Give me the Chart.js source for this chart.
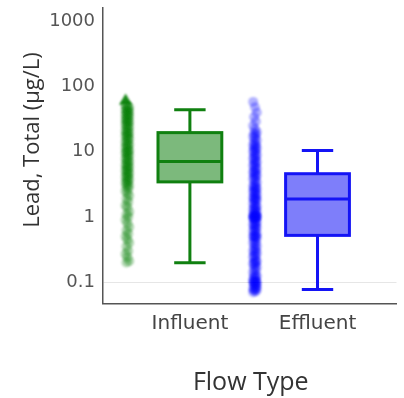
<!DOCTYPE html>
<html><head><meta charset="utf-8">
<script src="https://cdn.jsdelivr.net/npm/chart.js@4/dist/chart.umd.min.js"></script>
<style>html,body{margin:0;padding:0;background:#fff}canvas{display:block}</style>
</head><body>
<canvas id="c" width="404" height="398"></canvas>
<script>
const categories = ['Influent', 'Effluent'];
const yTicks = [0.1, 1, 10, 100, 1000];
// [lower whisker, Q1, median, Q3, upper whisker]
const influentBox = [0.198, 3.44, 7.06, 19.6, 44];
const effluentBox = [0.077, 0.52, 1.88, 4.59, 10.4];
const influentPoints = [52, 50, 48, 47, 45, 44, 42, 41, 40, 38, 37, 36, 35, 33, 32, 31, 30, 29, 28, 27, 26, 25, 24, 23, 22, 21, 20, 19.5, 19, 18, 17.5, 17, 16, 15.5, 15, 14, 13.5, 13, 12.5, 12, 11.5, 11, 10.5, 10, 10, 9.6, 9.2, 8.8, 8.4, 8, 7.7, 7.4, 7.1, 6.8, 6.5, 6.2, 6, 5.8, 5.5, 5.3, 5.1, 4.9, 4.7, 4.5, 4.3, 4.1, 4, 3.8, 3.6, 3.5, 3.3, 3.2, 3.0, 2.9, 2.7, 2.5, 2.3, 2.1, 1.9, 1.7, 1.5, 1.4, 1.2, 1.1, 1.0, 0.9, 0.8, 0.7, 0.62, 0.55, 0.5, 0.45, 0.4, 0.35, 0.3, 0.27, 0.24, 0.21, 0.2];
const influentMax = [60];
const effluentPoints = [58, 48, 40, 34, 29, 25, 22, 20, 19, 18, 17, 16, 15, 14, 13, 12.5, 12, 11.5, 11, 10.5, 10, 9.5, 9, 8.6, 8.2, 7.8, 7.4, 7, 6.7, 6.4, 6.1, 5.8, 5.5, 5.2, 5, 4.8, 4.6, 4.4, 4.2, 4, 3.8, 3.6, 3.4, 3.2, 3, 2.9, 2.8, 2.7, 2.6, 2.5, 2.4, 2.3, 2.2, 2.1, 2, 1.95, 1.9, 1.85, 1.8, 1.7, 1.6, 1.5, 1.45, 1.4, 1.35, 1.3, 1.25, 1.2, 1.15, 1.1, 1.08, 1.05, 1.02, 1, 1, 1, 1, 1, 0.98, 0.95, 0.92, 0.9, 0.85, 0.8, 0.78, 0.75, 0.72, 0.7, 0.67, 0.64, 0.6, 0.58, 0.55, 0.52, 0.5, 0.5, 0.5, 0.48, 0.45, 0.42, 0.4, 0.38, 0.36, 0.34, 0.32, 0.3, 0.29, 0.28, 0.26, 0.25, 0.24, 0.22, 0.21, 0.2, 0.2, 0.19, 0.18, 0.17, 0.16, 0.15, 0.14, 0.13, 0.125, 0.12, 0.115, 0.11, 0.105, 0.1, 0.1, 0.1, 0.1, 0.095, 0.09, 0.09, 0.085, 0.08, 0.08, 0.078, 0.075, 0.072, 0.07];

const xAxisTitle = 'Flow Type';
const yAxisTitle = 'Lead, Total (µg/L)';

const STRIP_OFFSET = -0.49;
function strip(values, catIndex) {
  return values.map((v, k) => ({ x: catIndex + STRIP_OFFSET + (((k * 7) % 5) - 2) * 0.007, y: v }));
}

const boxes = [
  { idx: 0, stats: influentBox, stroke: 'rgb(16,128,16)', fill: 'rgba(16,128,16,0.55)' },
  { idx: 1, stats: effluentBox, stroke: 'rgb(20,20,245)', fill: 'rgba(20,20,245,0.55)' }
];

const softPoints = {
  id: 'softPoints',
  beforeDatasetsDraw(chart) { chart.ctx.save(); chart.ctx.filter = 'blur(1px)'; },
  afterDatasetsDraw(chart) { chart.ctx.filter = 'none'; chart.ctx.restore(); }
};

const boxPlugin = {
  id: 'boxes',
  afterDatasetsDraw(chart) {
    const { ctx, scales: { x, y } } = chart;
    ctx.save();
    ctx.filter = 'none';
    boxes.forEach(b => {
      const [lo, q1, med, q3, hi] = b.stats;
      const cx = x.getPixelForValue(b.idx);
      const half = (x.getPixelForValue(b.idx + 0.25) - cx);
      const cap = (x.getPixelForValue(b.idx + 0.123) - cx);
      const yq1 = y.getPixelForValue(q1), yq3 = y.getPixelForValue(q3);
      const ym = y.getPixelForValue(med), ylo = y.getPixelForValue(lo), yhi = y.getPixelForValue(hi);
      ctx.lineWidth = 3;
      ctx.strokeStyle = b.stroke;
      ctx.fillStyle = b.fill;
      ctx.fillRect(cx - half, yq3, 2 * half, yq1 - yq3);
      ctx.strokeRect(cx - half, yq3, 2 * half, yq1 - yq3);
      ctx.beginPath();
      ctx.moveTo(cx - half, ym); ctx.lineTo(cx + half, ym);
      ctx.moveTo(cx, yq3); ctx.lineTo(cx, yhi);
      ctx.moveTo(cx - cap, yhi); ctx.lineTo(cx + cap, yhi);
      ctx.moveTo(cx, yq1); ctx.lineTo(cx, ylo);
      ctx.moveTo(cx - cap, ylo); ctx.lineTo(cx + cap, ylo);
      ctx.stroke();
    });
    ctx.restore();
  }
};

const titlePlugin = {
  id: 'axisTitles',
  afterDraw(chart) {
    const { ctx, chartArea } = chart;
    ctx.save();
    ctx.fillStyle = '#333';
    ctx.textAlign = 'center';
    ctx.textBaseline = 'middle';
    ctx.font = '25px "Open Sans"';
    ctx.fillText(xAxisTitle, (chartArea.left + chartArea.right) / 2 + 1, 383);
    ctx.font = '22px "Open Sans"';
    ctx.translate(33, 140);
    ctx.rotate(-Math.PI / 2);
    ctx.fillText(yAxisTitle, 0, 0);
    ctx.restore();
  }
};

new Chart(document.getElementById('c'), {
  type: 'scatter',
  data: {
    datasets: [
      { data: strip(influentPoints, 0), backgroundColor: 'rgba(0,125,0,0.3)', borderWidth: 0, pointRadius: 5 },
      { data: strip(influentMax, 0), backgroundColor: 'rgba(0,125,0,0.9)', borderWidth: 0, pointRadius: 7.5, pointStyle: 'triangle' },
      { data: strip(effluentPoints, 1), backgroundColor: 'rgba(0,0,255,0.3)', borderWidth: 0, pointRadius: 5 }
    ]
  },
  options: {
    responsive: false,
    animation: false,
    events: [],
    layout: { padding: { top: 3, right: 2, left: 0, bottom: 0 } },
    plugins: { legend: { display: false }, tooltip: { enabled: false } },
    scales: {
      x: {
        type: 'linear', min: -0.681, max: 1.619,
        afterBuildTicks: s => { s.ticks = [0, 1].map(v => ({ value: v })); },
        afterFit: s => { s.height = 94.5; s.paddingLeft = 0; s.paddingRight = 0; },
        grid: { display: false, drawTicks: false },
        border: { display: true, color: '#555', width: 1.5 },
        ticks: { callback: v => categories[v], font: { family: 'DejaVu Sans', size: 20 }, color: '#444', padding: 8, maxRotation: 0 }
      },
      y: {
        type: 'logarithmic', min: 0.0469, max: 1627,
        afterBuildTicks: s => { s.ticks = yTicks.map(v => ({ value: v })); },
        afterFit: s => { s.width = 103; s.paddingTop = 0; s.paddingBottom = 0; },
        grid: { color: c => (c.tick && c.tick.value === 0.1) ? '#e6e6e6' : 'rgba(0,0,0,0)', drawTicks: false },
        border: { display: true, color: '#555', width: 1.5 },
        ticks: { callback: v => String(v), font: { family: 'DejaVu Sans', size: 18 }, color: '#555', padding: 8 }
      }
    }
  },
  plugins: [softPoints, boxPlugin, titlePlugin]
});
</script>
</body></html>
